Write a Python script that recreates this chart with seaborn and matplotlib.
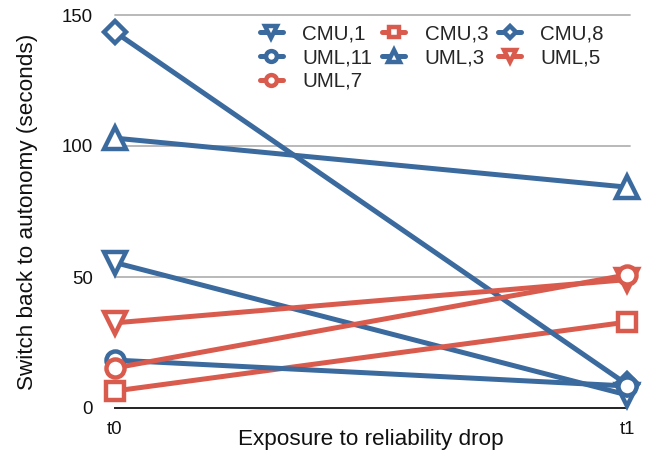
import matplotlib
matplotlib.use("Agg")
import matplotlib.pyplot as plt
import seaborn as sns
import pandas as pd

times = ["t0", "t1"]
series = ["CMU,1", "CMU,3", "CMU,8", "UML,11", "UML,3", "UML,5", "UML,7"]
t0_vals = [55.5, 6.5, 143.5, 18.3, 103.0, 32.5, 15.3]
t1_vals = [5.0, 32.8, 9.0, 8.4, 84.3, 49.0, 50.8]

BLUE = "#3b6a9e"
RED = "#d95b4d"
colors = {"CMU,1": BLUE, "CMU,3": RED, "CMU,8": BLUE, "UML,11": BLUE,
          "UML,3": BLUE, "UML,5": RED, "UML,7": RED}
markers = {"CMU,1": "v", "CMU,3": "s", "CMU,8": "D", "UML,11": "o",
           "UML,3": "^", "UML,5": "v", "UML,7": "o"}
msizes = {"v": 15.5, "^": 15.5, "s": 13, "o": 13, "D": 11}

sns.set_theme(style="white")
plt.rcParams["font.family"] = ["Liberation Sans", "DejaVu Sans"]

fig = plt.figure(figsize=(6.51, 4.53), dpi=100)
ax = fig.add_axes([115 / 651, (453 - 408) / 453, (627 - 115) / 651, (408 - 15) / 453])

rows = []
for s, a, b in zip(series, t0_vals, t1_vals):
    rows.append({"series": s, "x": 0, "value": a})
    rows.append({"series": s, "x": 1, "value": b})
df = pd.DataFrame(rows)

handles = {}
for s in series:
    sub = df[df["series"] == s]
    c = colors[s]
    m = markers[s]
    sns.lineplot(data=sub, x="x", y="value", ax=ax, color=c, linewidth=3.6,
                 marker=m, markersize=msizes[m], markerfacecolor="white",
                 markeredgecolor=c, markeredgewidth=3.2, clip_on=False,
                 label=s, legend=False, zorder=3)
    handles[s] = ax.lines[-1]

ax.set_xlim(0, 1.0)
ax.set_ylim(0, 150)
ax.set_yticks([0, 50, 100, 150])
ax.set_xticks([0, 1])
ax.set_xticklabels(times)
for yv in [50, 100, 150]:
    ax.axhline(yv, xmin=0, xmax=1.006, color="#b3b3b3", linewidth=1.3, zorder=1, clip_on=False)

for sp in ["top", "right", "left"]:
    ax.spines[sp].set_visible(False)
ax.spines["bottom"].set_color("#222222")
ax.spines["bottom"].set_linewidth(1.4)
ax.tick_params(axis="y", length=0, pad=16, labelsize=13.4, labelcolor="#111111")
ax.tick_params(axis="x", length=0, pad=9, labelsize=13.4, labelcolor="#111111")
ax.set_xlabel("Exposure to reliability drop", fontsize=16.2, labelpad=-6, color="#111111")
ax.set_ylabel("Switch back to autonomy (seconds)", fontsize=16.2, labelpad=17, color="#111111")
ax.grid(False)

order = ["CMU,1", "UML,11", "UML,7", "CMU,3", "UML,3", "CMU,8", "UML,5"]
leg = ax.legend([handles[s] for s in order], order, ncol=3, frameon=False,
                loc="upper left", bbox_to_anchor=(0.255, 1.012), fontsize=14.8,
                markerscale=0.6, handlelength=1.1, handletextpad=0.95,
                columnspacing=0.5, labelspacing=0.22, borderaxespad=0.3)

fig.savefig("out.png", dpi=100)
